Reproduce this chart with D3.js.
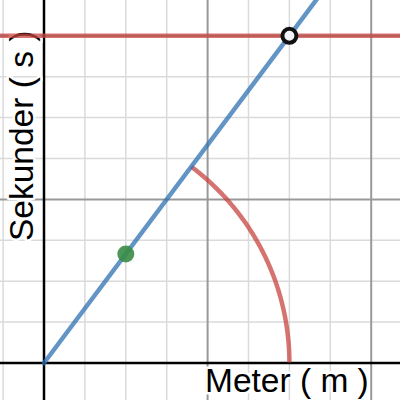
<!DOCTYPE html>
<html><head><meta charset="utf-8">
<script src="https://cdn.jsdelivr.net/npm/d3@7"></script>
<style>body{margin:0;background:#fff}svg{display:block}</style>
</head><body><svg id="c" width="400" height="400"></svg>
<script>
// data
const xLabel = "Meter ( m )";
const yLabel = "Sekunder ( s )";
const minorTicks = d3.range(-1, 10);   // grid units
const majorEvery = 4;
const blueLine = [[0, 0], [9, 12]];        // y = 4/3 x
const redHorizontalY = 8;
const arcRadius = 6;
const arcAngles = [53.13, 0];              // degrees, from x-axis
const openPoint = [6, 8];
const greenPoint = [2, 8 / 3];

const svg = d3.select("#c");
const W = 400, H = 400;
const unit = 40.9;
const x = d3.scaleLinear().domain([0, 8]).range([44, 44 + 8 * unit]);
const y = d3.scaleLinear().domain([0, 8]).range([363, 363 - 8 * unit]);

svg.append("rect").attr("width", W).attr("height", H).attr("fill", "#fff");

const g = svg.append("g");
const minor = minorTicks.filter(t => t % majorEvery !== 0);
const major = minorTicks.filter(t => t % majorEvery === 0 && t !== 0);
g.selectAll(".vmin").data(minor).join("line")
  .attr("x1", d => x(d)).attr("x2", d => x(d)).attr("y1", 0).attr("y2", H)
  .attr("stroke", "#dadada").attr("stroke-width", 1.5);
g.selectAll(".hmin").data(minor).join("line")
  .attr("y1", d => y(d)).attr("y2", d => y(d)).attr("x1", 0).attr("x2", W)
  .attr("stroke", "#dadada").attr("stroke-width", 1.5);
g.selectAll(".vmaj").data(major).join("line")
  .attr("x1", d => x(d)).attr("x2", d => x(d)).attr("y1", 0).attr("y2", H)
  .attr("stroke", "#999").attr("stroke-width", 2);
g.selectAll(".hmaj").data(major).join("line")
  .attr("y1", d => y(d)).attr("y2", d => y(d)).attr("x1", 0).attr("x2", W)
  .attr("stroke", "#999").attr("stroke-width", 2);

// axes
svg.append("line").attr("x1", 0).attr("x2", W).attr("y1", y(0)).attr("y2", y(0))
  .attr("stroke", "#000").attr("stroke-width", 2.5);
svg.append("line").attr("y1", 0).attr("y2", H).attr("x1", x(0)).attr("x2", x(0))
  .attr("stroke", "#000").attr("stroke-width", 2.5);

function label(sel) {
  return sel.attr("font-family", "Liberation Sans, Arial, sans-serif").attr("font-size", 33.5)
    .attr("fill", "#000").attr("stroke", "#fff").attr("stroke-width", 5)
    .attr("paint-order", "stroke").attr("stroke-linejoin", "round");
}
label(svg.append("text").attr("x", 205).attr("y", 392).text(xLabel));
label(svg.append("text").attr("transform", "translate(33,241) rotate(-90)").text(yLabel));

const line = d3.line().x(d => x(d[0])).y(d => y(d[1]));
svg.append("line").attr("x1", 0).attr("x2", W)
  .attr("y1", y(redHorizontalY)).attr("y2", y(redHorizontalY))
  .attr("stroke", "#c74440").attr("stroke-opacity", 0.75).attr("stroke-width", 4.5);
const angs = d3.range(arcAngles[0], arcAngles[1] - 0.01, -0.5);
svg.append("path")
  .attr("d", line(angs.map(a => [arcRadius * Math.cos(a * Math.PI / 180), arcRadius * Math.sin(a * Math.PI / 180)])))
  .attr("fill", "none").attr("stroke", "#c74440").attr("stroke-opacity", 0.75).attr("stroke-width", 4.5);
svg.append("path").attr("d", line(blueLine))
  .attr("fill", "none").attr("stroke", "#2d70b3").attr("stroke-opacity", 0.75)
  .attr("stroke-width", 4.5).attr("stroke-linecap", "round");
svg.append("circle").attr("cx", x(greenPoint[0])).attr("cy", y(greenPoint[1])).attr("r", 8.5)
  .attr("fill", "#388c46").attr("fill-opacity", 0.9);
svg.append("circle").attr("cx", x(openPoint[0])).attr("cy", y(openPoint[1])).attr("r", 7)
  .attr("fill", "#f2f2f7").attr("stroke", "#111").attr("stroke-width", 4);
</script></body></html>
